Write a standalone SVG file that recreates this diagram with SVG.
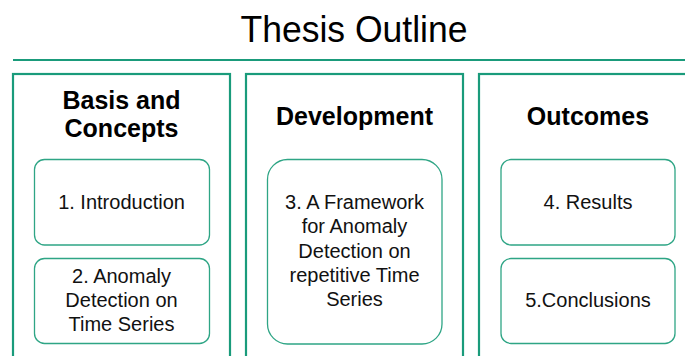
<svg xmlns="http://www.w3.org/2000/svg" width="685" height="356" viewBox="0 0 685 356">
<style>
.outer{fill:#fff;stroke:#1a9b7b;stroke-width:2.2}
.inner{fill:#fff;stroke:#2ea585;stroke-width:1.3}
.h{font-family:"Liberation Sans",Arial,sans-serif;font-weight:bold;font-size:25px;fill:#000;text-anchor:middle}
.t{font-family:"Liberation Sans",Arial,sans-serif;font-size:20px;fill:#111;text-anchor:middle}
.title{font-family:"Liberation Sans",Arial,sans-serif;font-size:37px;fill:#000;text-anchor:middle}
</style>
<rect width="685" height="356" fill="#fff"/>
<g id="title">
<text class="title" x="354" y="42" textLength="227" lengthAdjust="spacingAndGlyphs">Thesis Outline</text>
<line x1="13" y1="60" x2="685" y2="60" stroke="#1a9b7b" stroke-width="2.2"/>
</g>
<g id="basis">
<rect class="outer" x="13" y="74" width="217" height="300"/>
<text class="h" x="121.5" y="109">Basis and</text>
<text class="h" x="121.5" y="137">Concepts</text>
</g>
<g id="development">
<rect class="outer" x="246" y="74" width="217" height="300"/>
<text class="h" x="354.5" y="125">Development</text>
</g>
<g id="outcomes">
<rect class="outer" x="479" y="74" width="230" height="300"/>
<text class="h" x="588" y="125">Outcomes</text>
</g>
<g id="intro">
<rect class="inner" x="34.5" y="159.5" width="175" height="85.5" rx="10"/>
<text class="t" x="121.5" y="209">1. Introduction</text>
</g>
<g id="anomaly">
<rect class="inner" x="34.5" y="258.5" width="175" height="85" rx="10"/>
<text class="t" x="121.5" y="282.5">2. Anomaly</text>
<text class="t" x="121.5" y="306.5">Detection on</text>
<text class="t" x="121.5" y="330.5">Time Series</text>
</g>
<g id="framework">
<rect class="inner" x="267.5" y="159.5" width="174.5" height="184.5" rx="20"/>
<text class="t" x="354.5" y="209">3. A Framework</text>
<text class="t" x="354.5" y="233.3">for Anomaly</text>
<text class="t" x="354.5" y="257.6">Detection on</text>
<text class="t" x="354.5" y="281.9">repetitive Time</text>
<text class="t" x="354.5" y="306.2">Series</text>
</g>
<g id="results">
<rect class="inner" x="501" y="159.5" width="174" height="85.5" rx="10"/>
<text class="t" x="588" y="209">4. Results</text>
</g>
<g id="conclusions">
<rect class="inner" x="501" y="258.5" width="174" height="85" rx="10"/>
<text class="t" x="588" y="306.5">5.Conclusions</text>
</g>
<g id="connectors"/>
</svg>
